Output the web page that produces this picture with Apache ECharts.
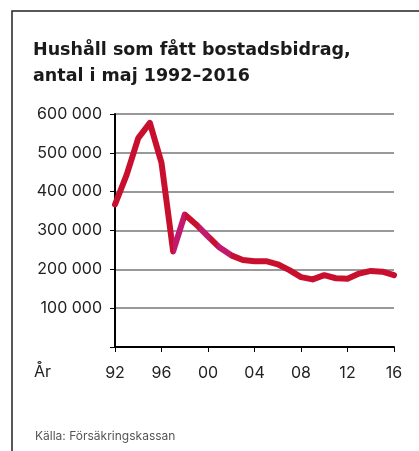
<!DOCTYPE html>
<html>
<head>
<meta charset="utf-8">
<script src="https://cdn.jsdelivr.net/npm/echarts@6/dist/echarts.min.js"></script>
<style>
  html, body { margin: 0; padding: 0; background: #fff; }
  #chart { width: 419px; height: 451px; }
</style>
</head>
<body>
<div id="chart"></div>
<script>
// year and number of households (May each year)
const years = [1992, 1993, 1994, 1995, 1996, 1997, 1998, 1999, 2000, 2001, 2002, 2003, 2004,
  2005, 2006, 2007, 2008, 2009, 2010, 2011, 2012, 2013, 2014, 2015, 2016];
const households = [367000, 443000, 538000, 577000, 474000, 246000, 341000, 315000, 285000,
  256000, 236000, 224000, 221000, 221000, 213000, 198000, 180000, 174000, 185000, 177000,
  176000, 189000, 196000, 194000, 185000];
const yTicks = [0, 100000, 200000, 300000, 400000, 500000, 600000];

const titleText = 'Hushåll som fått bostadsbidrag,\nantal i maj 1992–2016';
const sourceText = 'Källa: Försäkringskassan';

const font = 'Inter, "Liberation Sans", Arial, sans-serif';
const titleFont = '"DejaVu Sans", Inter, sans-serif';
const red = '#c8102e';
const magenta = '#c2186e';

function spaced(v) {
  if (v === 0) return '';
  return String(v).replace(/\B(?=(\d{3})+(?!\d))/g, ' ');
}

const chart = echarts.init(document.getElementById('chart'), null, { renderer: 'canvas' });

const option = {
  animation: false,
  backgroundColor: '#fff',
  title: {
    text: titleText,
    left: 28,
    top: 32,
    textStyle: {
      fontFamily: titleFont,
      fontSize: 17.5,
      fontWeight: 'bold',
      color: '#1a1a1a',
      lineHeight: 26
    }
  },
  grid: {
    left: 115,
    right: 25,
    top: 114,
    bottom: 104
  },
  xAxis: {
    type: 'value',
    min: years[0],
    max: years[years.length - 1],
    interval: 4,
    axisLine: { show: true, lineStyle: { color: '#000', width: 2 } },
    axisTick: { show: true, length: 5, lineStyle: { color: '#000', width: 1 } },
    splitLine: { show: false },
    axisLabel: {
      margin: 18,
      fontFamily: font,
      fontSize: 16,
      color: '#222',
      formatter: v => String(v).slice(2)
    }
  },
  yAxis: {
    type: 'value',
    min: yTicks[0],
    max: yTicks[yTicks.length - 1],
    interval: yTicks[1] - yTicks[0],
    axisLine: { show: true, lineStyle: { color: '#000', width: 2 } },
    axisTick: { show: true, length: 5, lineStyle: { color: '#000', width: 1 } },
    splitLine: { show: true, lineStyle: { color: '#777', width: 1.5 } },
    axisLabel: {
      margin: 13,
      fontFamily: font,
      fontSize: 16,
      color: '#222',
      formatter: spaced
    }
  },
  visualMap: {
    type: 'piecewise',
    show: false,
    dimension: 0,
    seriesIndex: 0,
    pieces: [
      { lt: 1997, color: red },
      { gte: 1997, lte: 1998, color: magenta },
      { gt: 1998, lt: 1999.2, color: red },
      { gte: 1999.2, lte: 2000.2, color: magenta },
      { gt: 2000.2, lt: 2000.8, color: red },
      { gte: 2000.8, lte: 2002, color: magenta },
      { gt: 2002, color: red }
    ]
  },
  series: [
    {
      type: 'line',
      data: years.map((y, i) => [y, households[i]]),
      showSymbol: false,
      smooth: false,
      lineStyle: { width: 6, cap: 'round', join: 'round' },
      z: 5
    }
  ],
  graphic: [
    {
      type: 'polyline',
      shape: { points: [[12, 451], [12, 11], [419, 11]] },
      style: { stroke: '#222', lineWidth: 1.5, fill: null }
    },
    {
      type: 'text',
      left: 34,
      top: 364,
      style: { text: 'År', fontFamily: font, fontSize: 16, fill: '#222' }
    },
    {
      type: 'text',
      left: 35,
      top: 430,
      style: { text: sourceText, fontFamily: font, fontSize: 12, fill: '#555' }
    }
  ]
};

chart.setOption(option);
</script>
</body>
</html>
